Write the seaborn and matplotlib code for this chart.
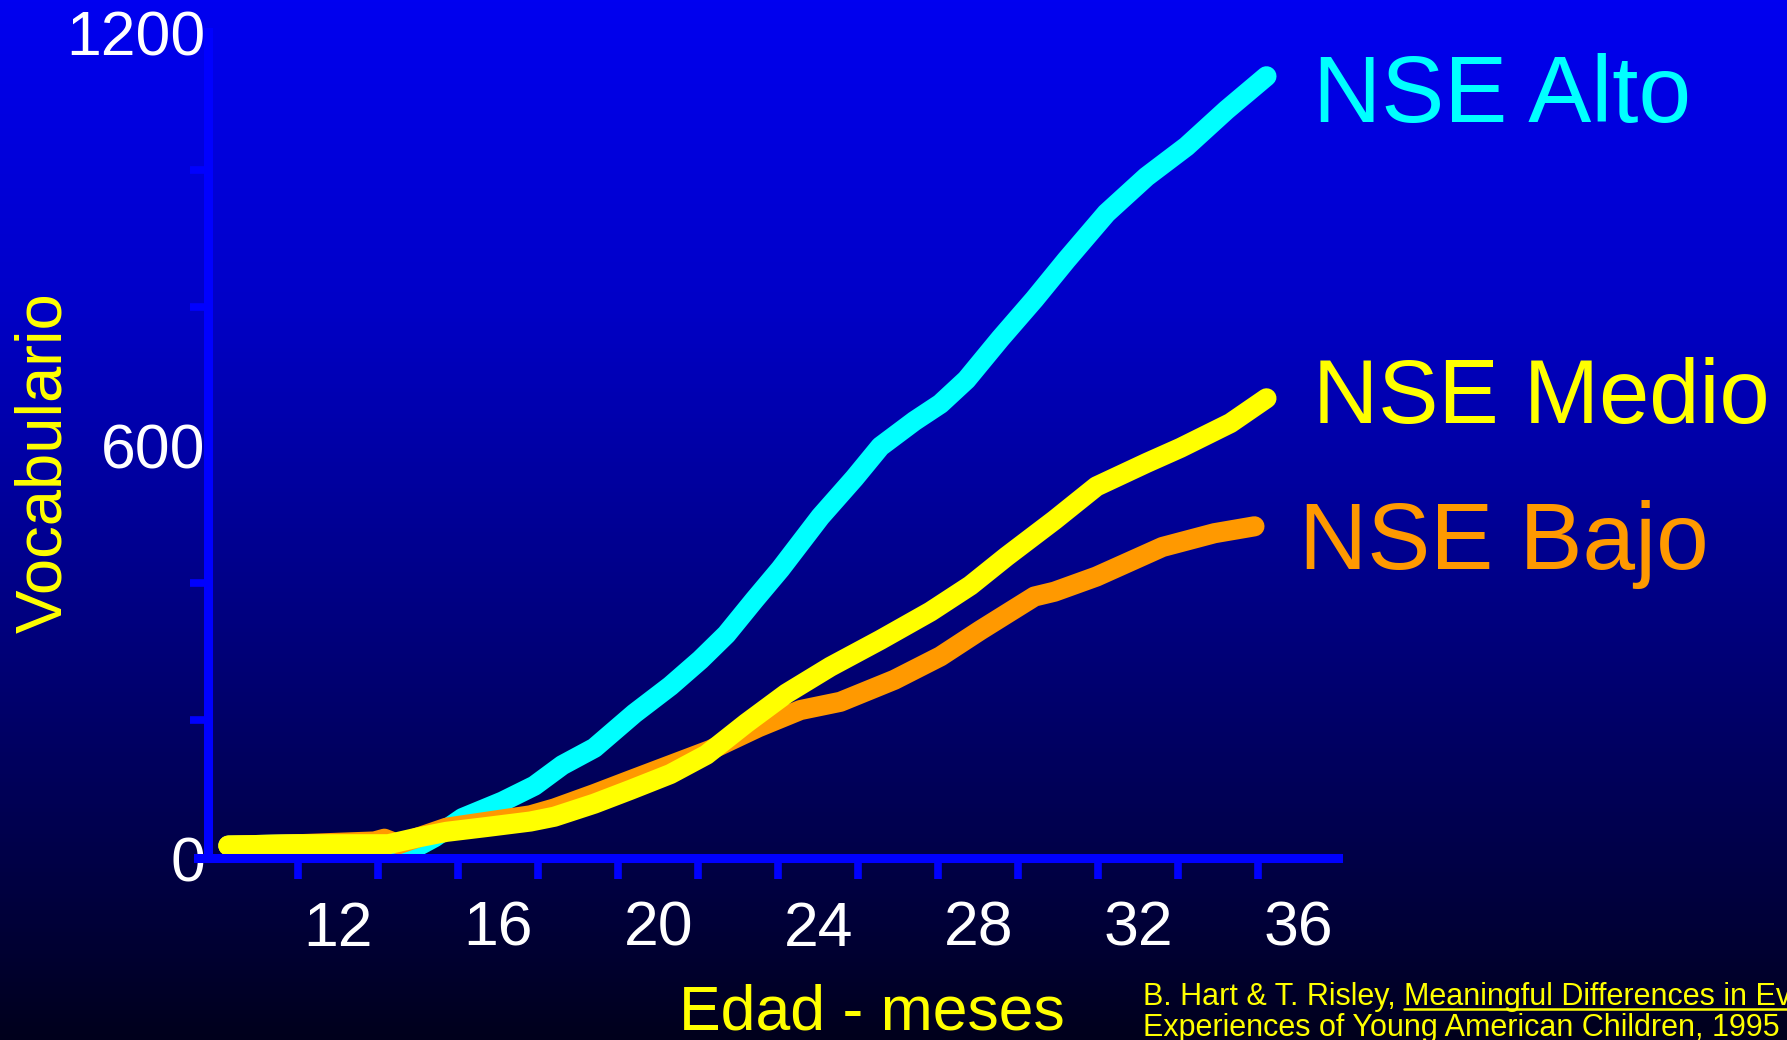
import numpy as np
import pandas as pd
import seaborn as sns
import matplotlib.pyplot as plt
from matplotlib.lines import Line2D

# data (months, vocabulary size)
alto_meses = [9.25, 11.0, 13.25, 13.7, 14.4, 15.1, 16.1, 16.9, 17.6, 18.4, 19.4, 20.3,
              21.05, 21.7, 22.4, 23.05, 24.05, 24.9, 25.55, 26.4, 27.05, 27.7, 28.55,
              29.4, 30.2, 31.2, 32.2, 33.2, 34.2, 35.2]
alto_vocab = [18, 20, 20, 8, 30, 58, 82, 105, 135, 160, 210, 250,
              288, 325, 375, 420, 496, 552, 598, 635, 660, 695, 755,
              812, 869, 937, 990, 1034, 1087, 1136]

medio_meses = [9.25, 11.0, 13.25, 14.0, 14.7, 15.7, 16.8, 17.4, 18.4, 19.3, 20.3, 21.2,
               22.2, 23.2, 24.3, 25.55, 26.8, 27.8, 28.7, 29.9, 30.95, 32.2, 33.05,
               34.3, 35.2]
medio_vocab = [18, 20, 20, 30, 38, 45, 53, 60, 79, 99, 122, 150,
               196, 239, 278, 317, 358, 396, 438, 491, 540, 574, 596,
               632, 668]

bajo_meses = [9.25, 11.0, 12.9, 13.15, 13.5, 14.7, 16.8, 17.4, 18.4, 19.3, 20.3, 21.3,
              22.5, 23.55, 24.55, 25.9, 27.05, 28.05, 29.4, 29.9, 30.95, 32.6, 33.9, 34.9]
bajo_vocab = [18, 20, 24, 28, 20, 44, 62, 72, 93, 113, 135, 157,
              190, 215, 227, 259, 293, 331, 380, 387, 409, 452, 472, 482]

grupos = ['NSE Alto', 'NSE Bajo', 'NSE Medio']
colores = {'NSE Alto': '#00FFFF', 'NSE Medio': '#FFFF00', 'NSE Bajo': '#FF9900'}
x_labels = [12, 16, 20, 24, 28, 32, 36]
x_minor = list(range(11, 37, 2))
y_labels = [0, 600, 1200]
y_minor = [200, 400, 600, 800, 1000]

df = pd.concat([
    pd.DataFrame({'Edad': alto_meses, 'Vocab': alto_vocab, 'NSE': 'NSE Alto'}),
    pd.DataFrame({'Edad': bajo_meses, 'Vocab': bajo_vocab, 'NSE': 'NSE Bajo'}),
    pd.DataFrame({'Edad': medio_meses, 'Vocab': medio_vocab, 'NSE': 'NSE Medio'}),
])

sns.set_theme(style='white')
plt.rcParams['font.family'] = ['Liberation Sans', 'DejaVu Sans']

fig = plt.figure(figsize=(17.87, 10.40), dpi=100)

# background gradient, bright blue at the top fading to almost black
bg = fig.add_axes([0, 0, 1, 1], zorder=-10)
filas = np.linspace(0, 1040, 520)
azul = np.interp(filas, [0, 300, 650, 950, 1040], [240, 200, 120, 50, 28]) / 255
img = np.zeros((520, 1, 3))
img[:, 0, 2] = azul
bg.imshow(img, aspect='auto', extent=[0, 1, 0, 1])
bg.axis('off')

ax = fig.add_axes([0.111, 0.175, 0.638, 0.794])
ax.set_facecolor('none')
sns.lineplot(data=df, x='Edad', y='Vocab', hue='NSE', hue_order=grupos,
             palette=colores, linewidth=14.5, sort=False, estimator=None,
             legend=False, ax=ax, solid_capstyle='round', solid_joinstyle='round')

ax.set_xlim(8.5, 37.0)
ax.set_ylim(0, 1200)
ax.spines['top'].set_visible(False)
ax.spines['right'].set_visible(False)
for s in ['left', 'bottom']:
    ax.spines[s].set_color('#0000FF')
    ax.spines[s].set_linewidth(6.5)
ax.spines['left'].set_position(('data', 8.75))

ax.set_xticks(x_labels)
ax.set_xticks(x_minor, minor=True)
ax.set_yticks(y_labels)
ax.set_yticks(y_minor, minor=True)
ax.tick_params(bottom=True, left=True, which='both')
ax.tick_params(axis='x', which='major', length=0, pad=30, labelsize=45, labelcolor='white')
ax.tick_params(axis='y', which='major', length=0, pad=2, labelsize=45, labelcolor='white')
ax.tick_params(axis='x', which='minor', length=15, width=5.5, color='#0000FF', direction='out')
ax.tick_params(axis='y', which='minor', length=13, width=5.5, color='#0000FF', direction='out')
ax.grid(False)

ax.set_xlabel('Edad - meses', fontsize=45, color='#FFFF00')
ax.set_ylabel('Vocabulario', fontsize=47, color='#FFFF00')
ax.xaxis.set_label_coords(0.591, -0.152)
ax.yaxis.set_label_coords(-0.109, 0.479)

# series labels on the right
fig.text(0.735, 0.883, 'NSE Alto', fontsize=68, color=colores['NSE Alto'], va='baseline')
fig.text(0.735, 0.593, 'NSE Medio', fontsize=65, color=colores['NSE Medio'], va='baseline')
fig.text(0.727, 0.453, 'NSE Bajo', fontsize=68, color=colores['NSE Bajo'], va='baseline')

# source
cita = ['Liberation Sans Narrow', 'Liberation Sans']
t1 = fig.text(0.6395, 0.034, 'B. Hart & T. Risley, ', fontsize=22, color='#FFFF00',
              family=cita, va='baseline')
fig.canvas.draw()
r = fig.canvas.get_renderer()
bb = t1.get_window_extent(r)
t2 = fig.text(bb.x1 / fig.bbox.width, 0.034, 'Meaningful Differences in Everyday',
              fontsize=22, color='#FFFF00', family=cita, va='baseline')
fig.text(0.6395, 0.004, 'Experiences of Young American Children, 1995', fontsize=22,
         color='#FFFF00', family=cita, va='baseline')
bb2 = t2.get_window_extent(r)
uy = 0.034 - 4 / fig.bbox.height
fig.add_artist(Line2D([bb2.x0 / fig.bbox.width, bb2.x1 / fig.bbox.width], [uy, uy],
                      transform=fig.transFigure, color='#FFFF00', linewidth=1.8))

plt.savefig('out.png', dpi=100)
